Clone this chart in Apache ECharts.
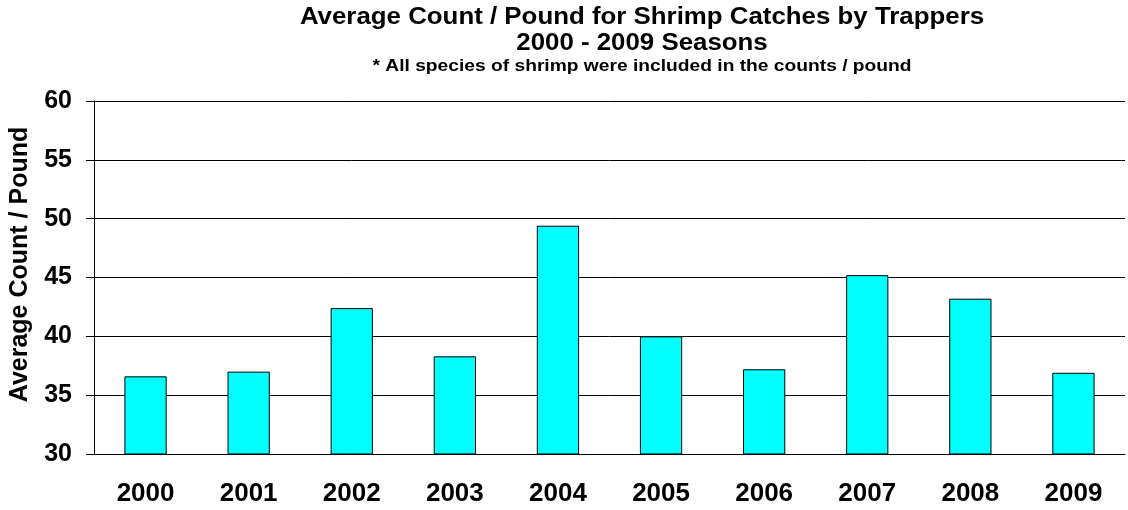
<!DOCTYPE html>
<html>
<head>
<meta charset="utf-8">
<script src="https://cdn.jsdelivr.net/npm/echarts@6/dist/echarts.min.js"></script>
<style>
  html, body { margin: 0; padding: 0; background: #fff; }
  #chart { width: 1128px; height: 510px; }
</style>
</head>
<body>
<div id="chart"></div>
<script>
// Seasons and average shrimp count per pound
const seasons = ['2000', '2001', '2002', '2003', '2004', '2005', '2006', '2007', '2008', '2009'];
const avgCountPerPound = [36.6, 37.0, 42.4, 38.3, 49.4, 40.0, 37.2, 45.2, 43.2, 36.9];
const yTicks = [30, 35, 40, 45, 50, 55, 60];

const titleLines = [
  'Average Count / Pound for Shrimp Catches by Trappers',
  '2000 - 2009 Seasons'
];
const subtitle = '* All species of shrimp were included in the counts / pound';
const yAxisName = 'Average Count / Pound';

const FONT = '"Liberation Sans", Arial, sans-serif';
const chart = echarts.init(document.getElementById('chart'), null, { renderer: 'canvas' });

// Centered heading line, slightly widened
function headingLine(text, cy, size, sx) {
  return {
    type: 'text',
    x: 642, y: cy,
    scaleX: sx, scaleY: 1,
    style: {
      text: text, x: 0, y: 0,
      textAlign: 'center', textVerticalAlign: 'middle',
      fontFamily: FONT, fontWeight: 'bold', fontSize: size, fill: '#000'
    }
  };
}

chart.setOption({
  backgroundColor: '#ffffff',
  animation: false,
  graphic: [
    headingLine(titleLines[0], 18, 23.5, 1.1),
    headingLine(titleLines[1], 44, 23.5, 1.1),
    headingLine(subtitle, 66, 17, 1.13)
  ],
  grid: { left: 94, right: 3, top: 101, bottom: 56, containLabel: false },
  xAxis: {
    type: 'category',
    data: seasons,
    axisLine: { show: true, lineStyle: { color: '#000', width: 1 } },
    axisTick: { show: false },
    axisLabel: { color: '#000', fontFamily: FONT, fontWeight: 'bold', fontSize: 26, margin: 27 },
    splitLine: { show: false }
  },
  yAxis: {
    type: 'value',
    min: yTicks[0],
    max: yTicks[yTicks.length - 1],
    interval: 5,
    name: yAxisName,
    nameLocation: 'middle',
    nameGap: 61,
    nameRotate: 90,
    nameTextStyle: {
      color: '#000', fontFamily: FONT, fontWeight: 'bold', fontSize: 25,
      padding: [0, 0, 0, 26]
    },
    axisLine: { show: true, lineStyle: { color: '#000', width: 1 } },
    axisTick: { show: true, length: 8, lineStyle: { color: '#000' } },
    axisLabel: { color: '#000', fontFamily: FONT, fontWeight: 'bold', fontSize: 25, margin: 22 },
    splitLine: { show: true, lineStyle: { color: '#000', width: 1 } }
  },
  series: [{
    type: 'bar',
    data: avgCountPerPound,
    barWidth: '41%',
    itemStyle: { color: '#00FFFF', borderColor: '#000', borderWidth: 1 }
  }]
});
</script>
</body>
</html>
